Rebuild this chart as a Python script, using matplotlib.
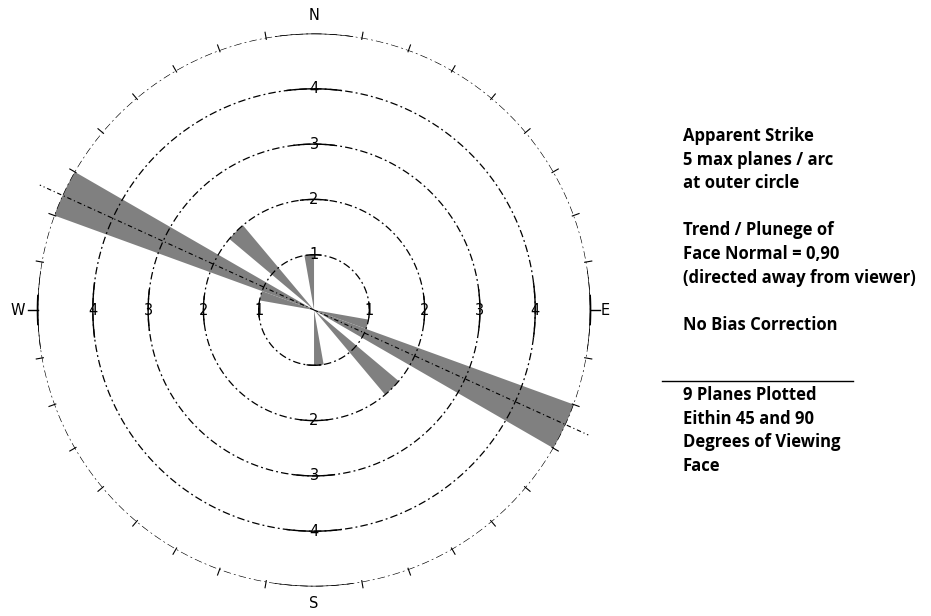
import numpy as np
import matplotlib
matplotlib.use('Agg')
import matplotlib.pyplot as plt

# rose diagram data: bin start (deg, apparent strike) and number of planes
bin_starts = [280, 290, 310, 350]
counts = [1, 5, 2, 1]
bin_width = 10
mean_strike = 294.5
ring_values = [1, 2, 3, 4]
r_max = 5

info_top = ["Apparent Strike", "5 max planes / arc", "at outer circle", "",
            "Trend / Plunege of", "Face Normal = 0,90", "(directed away from viewer)", "",
            "No Bias Correction"]
info_bottom = ["9 Planes Plotted", "Eithin 45 and 90", "Degrees of Viewing", "Face"]

fig = plt.figure(figsize=(9.31, 6.16), dpi=100)
ax = fig.add_axes([0.0403, 0.0479, 0.594, 0.8977], projection='polar')
ax.set_theta_zero_location('N')
ax.set_theta_direction(-1)
ax.set_ylim(0, r_max)
ax.grid(False)
ax.set_xticks([])
ax.set_yticks([])
ax.spines['polar'].set_visible(False)
ax.patch.set_alpha(0)

# petals, both directions
for start, n in zip(bin_starts, counts):
    for off in (0, 180):
        th = np.deg2rad(start + off + bin_width / 2)
        ax.bar(th, n, width=np.deg2rad(bin_width), bottom=0, color='#808080',
               edgecolor='none', zorder=2)

# rings
t = np.linspace(0, 2 * np.pi, 721)
dash = (0, (6, 2.5, 1.5, 2.5))
for r in ring_values + [r_max]:
    ax.plot(t, np.full_like(t, r), color='black', lw=0.9, linestyle=dash, zorder=3)
    # solid stretches near the axes
    for c in (0, 90, 180, 270):
        span = 7 if r < r_max else 8
        ts = np.deg2rad(np.linspace(c - span, c + span, 30))
        ax.plot(ts, np.full_like(ts, r), color='black', lw=1.0, zorder=3)

# ticks on outer circle every 10 deg
for d in range(0, 360, 10):
    if d % 90 == 0:
        continue
    th = np.deg2rad(d)
    ax.plot([th, th], [r_max - 0.03, r_max + 0.1], color='black', lw=0.8,
            zorder=3, clip_on=False)

# E / W tick marks
for d in (90, 270):
    th = np.deg2rad(d)
    ax.plot([th, th], [r_max, r_max + 0.18], color='black', lw=1.0, clip_on=False)
    ts = np.deg2rad(np.linspace(d - 3, d + 3, 10))
    ax.plot(ts, np.full_like(ts, r_max), color='black', lw=1.2, clip_on=False)

# mean strike line
for d in (mean_strike, mean_strike - 180):
    th = np.deg2rad(d)
    ax.plot([th, th], [0, 5.45], color='black', lw=0.8, linestyle=(0, (4, 2.5, 1, 2.5)),
            zorder=4, clip_on=False)

# ring labels
for r in ring_values:
    for d in (0, 90, 180, 270):
        if d == 180 and r == 1:
            continue
        ax.text(np.deg2rad(d), r, str(r), ha='center', va='center', fontsize=10.5,
                color='black', zorder=5)

# cardinal labels
ax.text(0, r_max + 0.32, 'N', ha='center', va='center', fontsize=10.5, clip_on=False)
ax.text(np.pi, r_max + 0.3, 'S', ha='center', va='center', fontsize=10.5, clip_on=False)
ax.text(np.pi / 2, r_max + 0.27, 'E', ha='center', va='center', fontsize=10.5, clip_on=False)
ax.text(3 * np.pi / 2, r_max + 0.35, 'W', ha='center', va='center', fontsize=10.5, clip_on=False)

# side text
x0 = 683 / 931
y = 1 - 136 / 616
step = 23.6 / 616
for line in info_top:
    fig.text(x0, y, line, fontsize=12, fontweight='bold', family='Open Sans',
             ha='left', va='center')
    y -= step
fig.add_artist(plt.Line2D([662 / 931, 853 / 931], [1 - 381 / 616, 1 - 381 / 616],
                          color='black', lw=1.0, transform=fig.transFigure))
y = 1 - 395 / 616
for line in info_bottom:
    fig.text(x0, y, line, fontsize=12, fontweight='bold', family='Open Sans',
             ha='left', va='center')
    y -= step

fig.savefig('out.png', dpi=100)
